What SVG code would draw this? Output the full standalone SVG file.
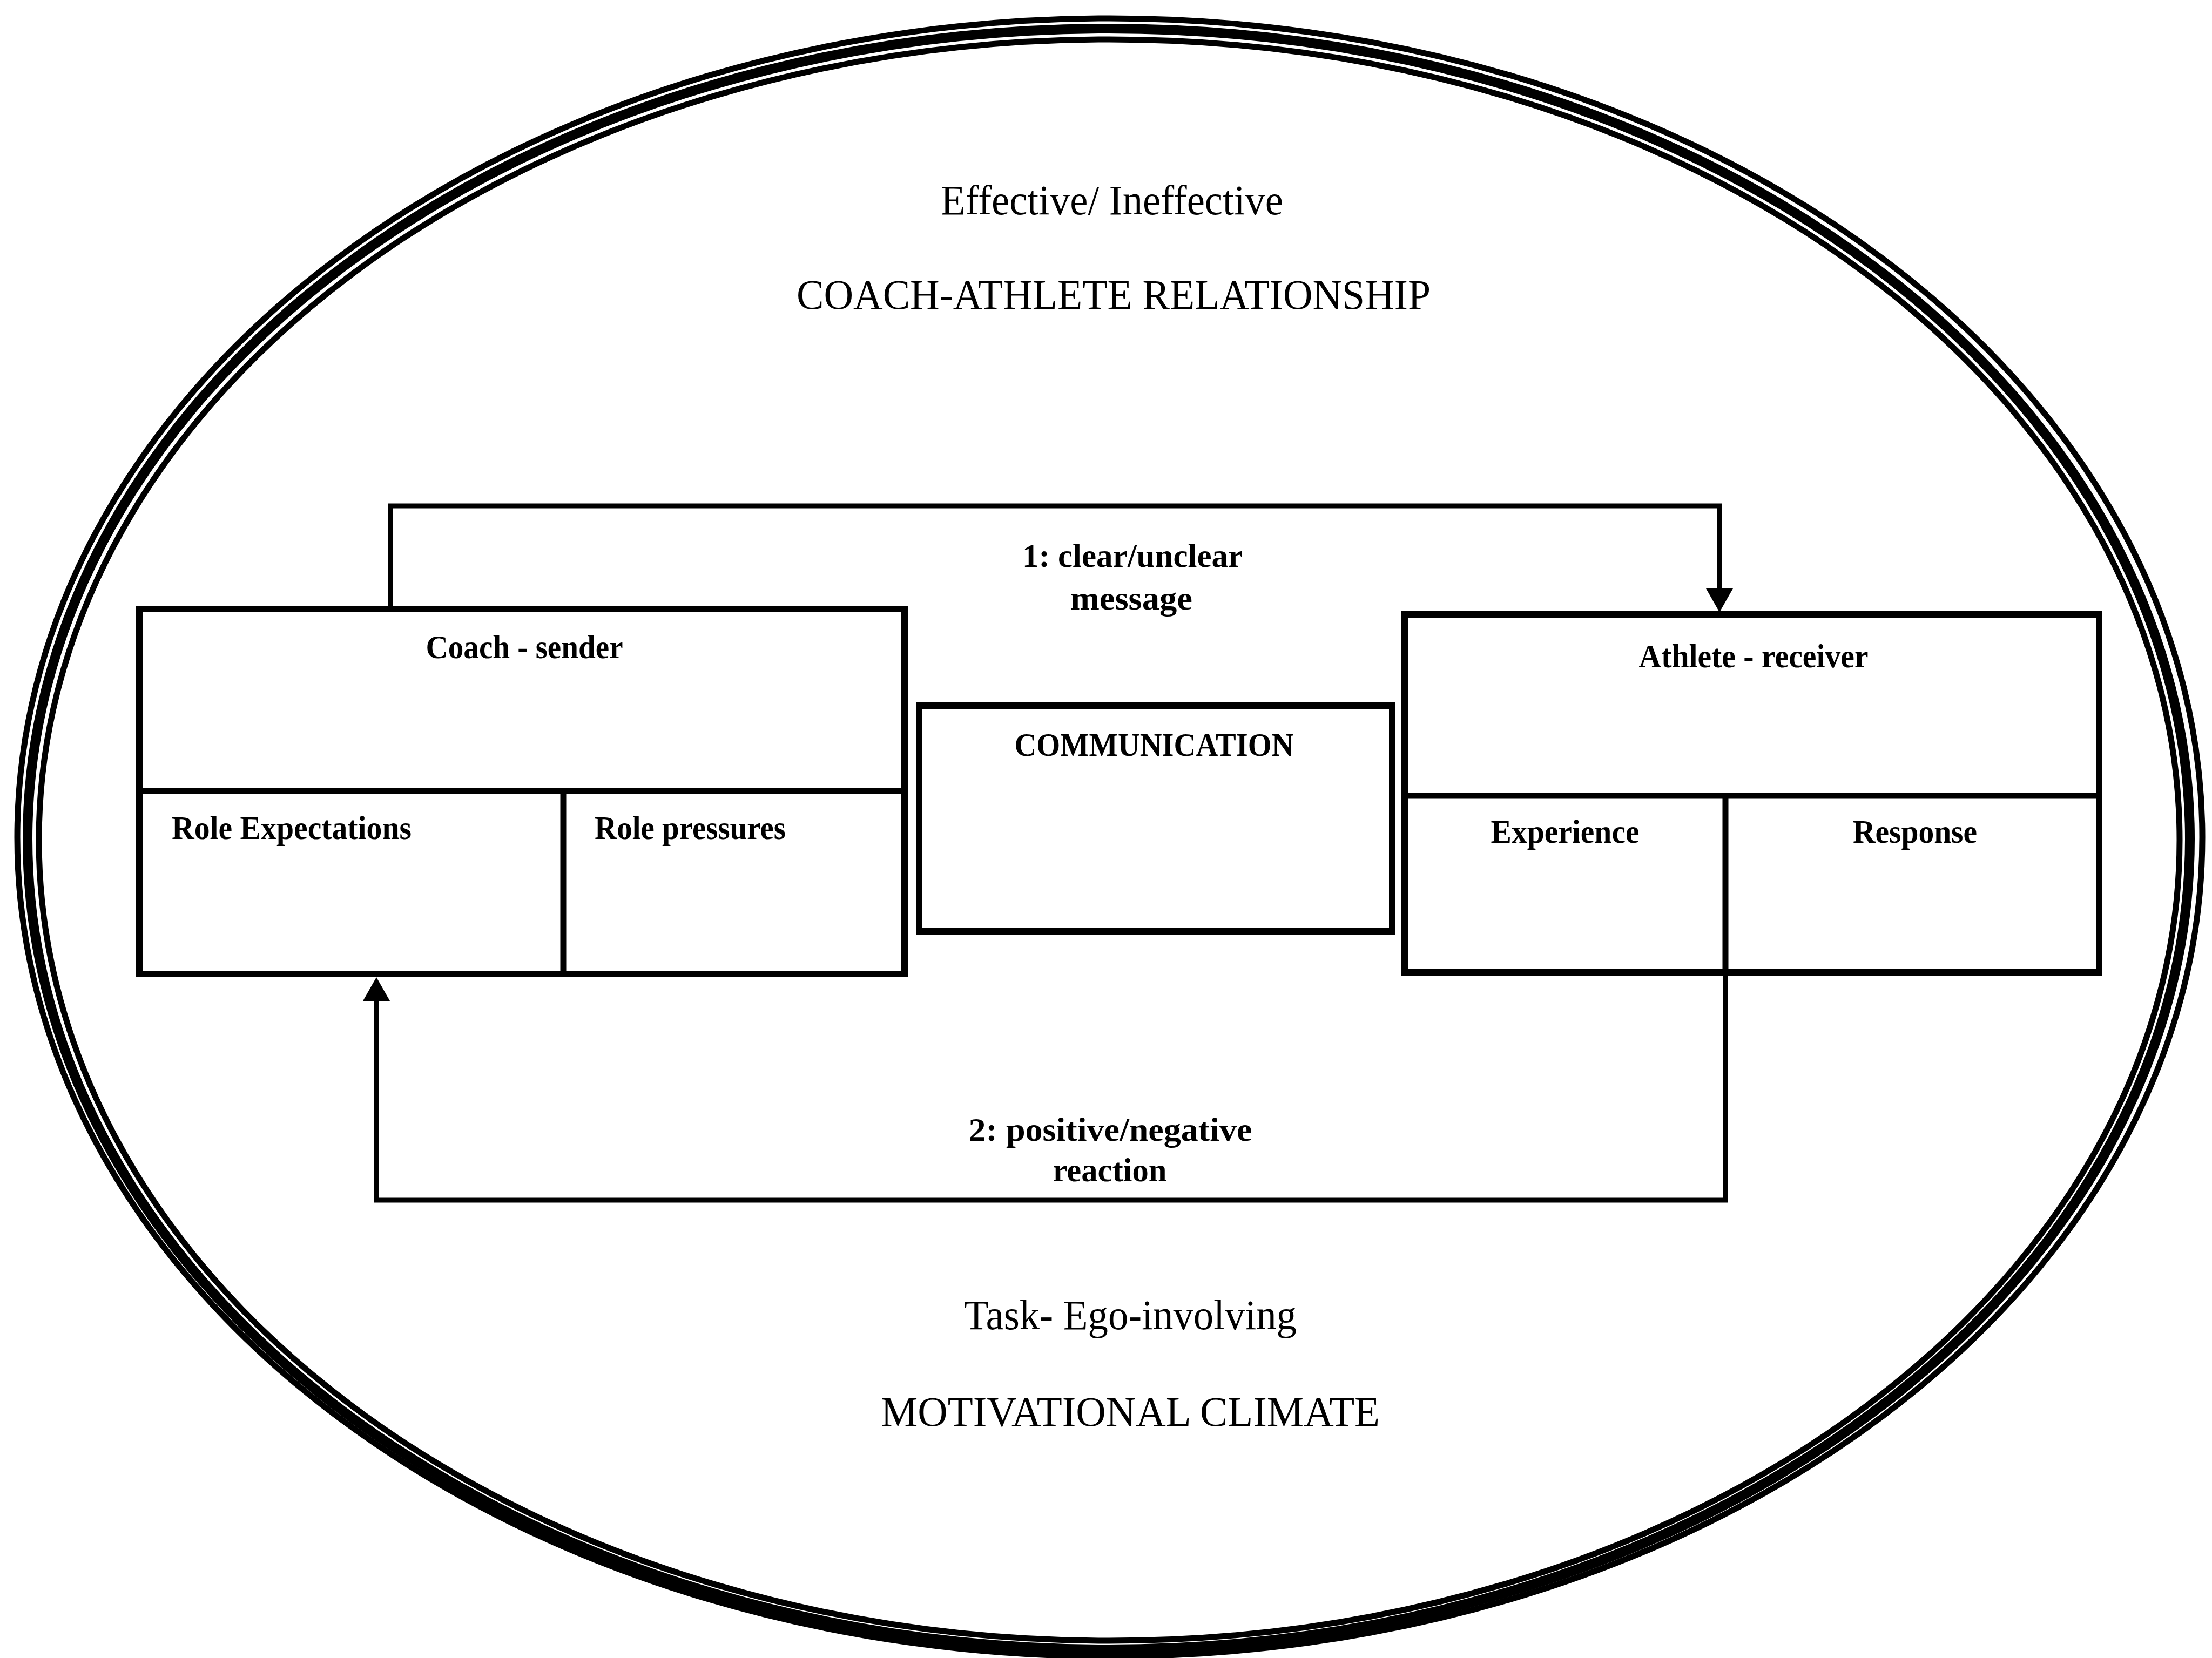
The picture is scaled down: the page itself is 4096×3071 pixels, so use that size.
<svg xmlns="http://www.w3.org/2000/svg" width="4096" height="3071" viewBox="0 0 4096 3071">
  <style>
    .ring { fill: none; stroke: #000; }
    .box { fill: #fff; stroke: #000; stroke-width: 12; }
    .div { fill: none; stroke: #000; stroke-width: 11; }
    .link { fill: none; stroke: #000; stroke-width: 9; stroke-linejoin: miter; }
    .lbl { font-family: "Liberation Serif", "Times New Roman", serif; font-weight: bold; font-size: 62px; fill: #000; }
    .title { font-family: "Liberation Serif", "Times New Roman", serif; font-size: 78px; fill: #000; }
    .mid { text-anchor: middle; }
  </style>
  <defs>
    <marker id="head" viewBox="0 0 44 50" refX="0" refY="25" markerWidth="44" markerHeight="50" markerUnits="userSpaceOnUse" orient="auto">
      <path d="M0,0 L44,25 L0,50 Z" fill="#000"/>
    </marker>
  </defs>
  <rect x="0" y="0" width="4096" height="3071" fill="#fff"/>

  <!-- triple outline enclosing the whole model -->
  <g id="frame">
    <ellipse class="ring" cx="2055" cy="1551" rx="2023" ry="1517" stroke-width="11"/>
    <ellipse class="ring" cx="2053" cy="1554" rx="2002" ry="1501" stroke-width="18"/>
    <ellipse class="ring" cx="2054" cy="1556" rx="1982" ry="1483" stroke-width="11"/>
  </g>

  <!-- headings -->
  <g id="relationship">
    <text class="title mid" x="2059" y="397" textLength="634" lengthAdjust="spacingAndGlyphs">Effective/ Ineffective</text>
    <text class="title mid" x="2062" y="572" textLength="1174" lengthAdjust="spacingAndGlyphs">COACH-ATHLETE RELATIONSHIP</text>
  </g>
  <g id="climate">
    <text class="title mid" x="2093" y="2462" textLength="616" lengthAdjust="spacingAndGlyphs">Task- Ego-involving</text>
    <text class="title mid" x="2093" y="2641" textLength="924" lengthAdjust="spacingAndGlyphs">MOTIVATIONAL CLIMATE</text>
  </g>

  <!-- connectors -->
  <g id="connectors">
    <path class="link" d="M723,1128 V937 H3184 V1090" marker-end="url(#head)"/>
    <path class="link" d="M3195,1801 V2223 H697 V1854" marker-end="url(#head)"/>
    <text class="lbl mid" x="2097" y="1050" textLength="408" lengthAdjust="spacingAndGlyphs">1: clear/unclear</text>
    <text class="lbl mid" x="2095" y="1129" textLength="226" lengthAdjust="spacingAndGlyphs">message</text>
    <text class="lbl mid" x="2056" y="2113" textLength="525" lengthAdjust="spacingAndGlyphs">2: positive/negative</text>
    <text class="lbl mid" x="2055" y="2188" textLength="211" lengthAdjust="spacingAndGlyphs">reaction</text>
  </g>

  <!-- coach (sender) -->
  <g id="coach">
    <rect class="box" x="258" y="1128" width="1417" height="676"/>
    <line class="div" x1="258" y1="1465" x2="1675" y2="1465"/>
    <line class="div" x1="1043" y1="1465" x2="1043" y2="1804"/>
    <text class="lbl mid" x="971" y="1219" textLength="365" lengthAdjust="spacingAndGlyphs">Coach - sender</text>
    <text class="lbl" x="318" y="1554" textLength="444" lengthAdjust="spacingAndGlyphs">Role Expectations</text>
    <text class="lbl" x="1101" y="1554" textLength="354" lengthAdjust="spacingAndGlyphs">Role pressures</text>
  </g>

  <!-- communication -->
  <g id="communication">
    <rect class="box" x="1702" y="1307" width="876" height="418"/>
    <text class="lbl mid" x="2137" y="1400" textLength="517" lengthAdjust="spacingAndGlyphs">COMMUNICATION</text>
  </g>

  <!-- athlete (receiver) -->
  <g id="athlete">
    <rect class="box" x="2601" y="1138" width="1286" height="663"/>
    <line class="div" x1="2601" y1="1474" x2="3887" y2="1474"/>
    <line class="div" x1="3195" y1="1474" x2="3195" y2="1801"/>
    <text class="lbl mid" x="3247" y="1236" textLength="425" lengthAdjust="spacingAndGlyphs">Athlete - receiver</text>
    <text class="lbl mid" x="2898" y="1561" textLength="275" lengthAdjust="spacingAndGlyphs">Experience</text>
    <text class="lbl mid" x="3546" y="1561" textLength="230" lengthAdjust="spacingAndGlyphs">Response</text>
  </g>
</svg>
